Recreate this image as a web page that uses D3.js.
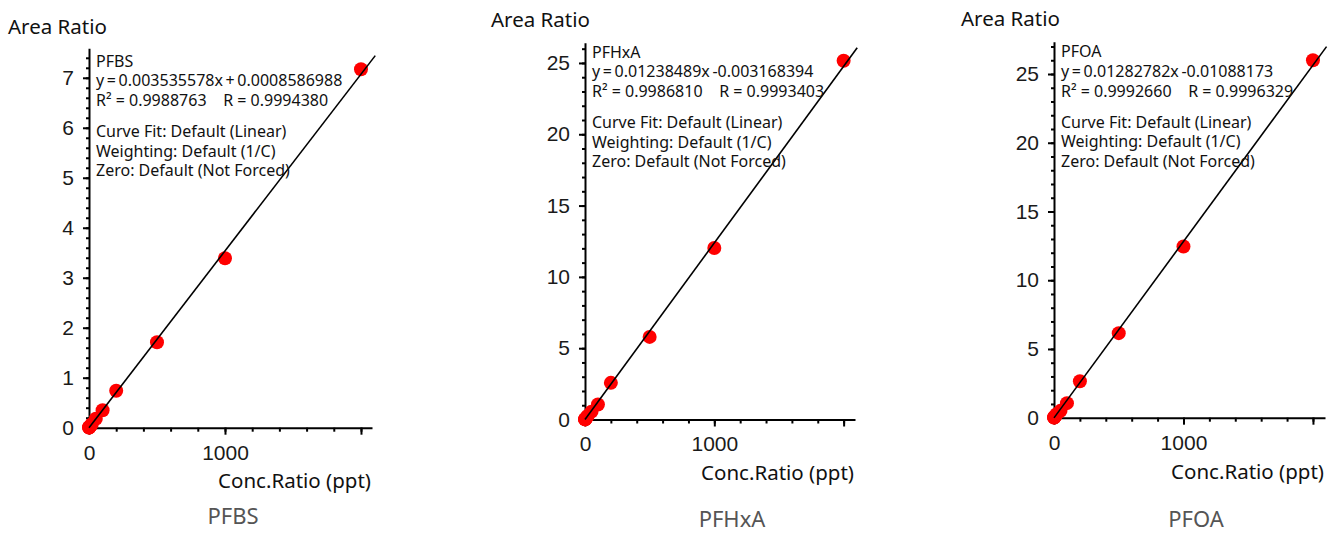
<!DOCTYPE html>
<html lang="en">
<head>
<meta charset="UTF-8">
<title>Calibration curves</title>
<script src="https://d3js.org/d3.v7.min.js"></script>
<style>
    body { margin: 0; background: #fff; }
    svg { display: block; font-family: "Noto Sans", "Open Sans", sans-serif; }
    .axis path, .axis line { stroke: #000; }
    .axis path { stroke-width: 2px; }
    .axis line { stroke-width: 2px; }
    .axis text { font-size: 21px; fill: #1a1a1a; }
    .note { font-size: 16px; fill: #111; white-space: pre; }
    .ylab, .xlab { font-size: 20.5px; fill: #111; }
    .title { font-size: 22px; fill: #555; }
</style>
</head>
<body>
<div id="chart"></div>
<script>
// calibration levels (ppt)
var conc = [0.5, 1, 2, 5, 10, 20, 50, 100, 200, 500, 1000, 2000];

// area ratios
var pfbsArea  = [0.002, 0.004, 0.008, 0.018, 0.036, 0.07, 0.18, 0.35, 0.74, 1.71, 3.39, 7.17];
var pfhxaArea = [0.006, 0.012, 0.025, 0.06, 0.12, 0.25, 0.55, 1.05, 2.57, 5.79, 12.03, 25.15];
var pfoaArea  = [0.006, 0.013, 0.026, 0.065, 0.13, 0.26, 0.5, 1.06, 2.65, 6.15, 12.45, 26.0];

var names = ["PFBS", "PFHxA", "PFOA"];
var slopes = [0.003535578, 0.01238489, 0.01282782];
var intercepts = [0.0008586988, -0.003168394, -0.01088173];
var eqLabels = [
    "y\u2009=\u20090.003535578x\u2009+\u20090.0008586988",
    "y\u2009=\u20090.01238489x\u2009-0.003168394",
    "y\u2009=\u20090.01282782x\u2009-0.01088173"
];
var rLabels = [
    "R\u00b2 = 0.9988763    R = 0.9994380",
    "R\u00b2 = 0.9986810    R = 0.9993403",
    "R\u00b2 = 0.9992660    R = 0.9996329"
];
var fitLines = ["Curve Fit: Default (Linear)", "Weighting: Default (1/C)", "Zero: Default (Not Forced)"];

var xTickLabels = [0, 1000];

var W = 1332, H = 534;
var svg = d3.select("#chart").append("svg").attr("width", W).attr("height", H);

// plot boxes in page pixels
var panels = [
    { left: 89,   right: 372,  bottom: 427.7, top: 48.3, xMax: 2081, yMax: 7.59,  yMajor: 1, yMinor: 0.2,
      yLabX: 8,   yLabY: 27, noteY: 61,  titleX: 233,  titleY: 516, xLabY: 481 },
    { left: 585,  right: 855,  bottom: 419.5, top: 42.7, xMax: 2088, yMax: 26.42, yMajor: 5, yMinor: 1,
      yLabX: 491, yLabY: 20, noteY: 52,  titleX: 732,  titleY: 519, xLabY: 473 },
    { left: 1054, right: 1325, bottom: 417.7, top: 41.7, xMax: 2093, yMax: 27.35, yMajor: 5, yMinor: 1,
      yLabX: 961, yLabY: 18.5, noteY: 51.7, titleX: 1196, titleY: 519, xLabY: 472 }
];
var areas = [pfbsArea, pfhxaArea, pfoaArea];

panels.forEach(function (p, i) {
    var g = svg.append("g");
    var x = d3.scaleLinear().domain([0, p.xMax]).range([p.left, p.right]);
    var y = d3.scaleLinear().domain([0, p.yMax]).range([p.bottom, p.top]);

    var eps = 1e-9;
    // minor ticks
    g.append("g").attr("class", "axis")
        .attr("transform", "translate(" + p.left + ",0)")
        .call(d3.axisLeft(y).tickValues(d3.range(0, p.yMax + eps, p.yMinor)).tickSize(3).tickFormat("").tickSizeOuter(0));
    g.append("g").attr("class", "axis")
        .attr("transform", "translate(0," + p.bottom + ")")
        .call(d3.axisBottom(x).tickValues(d3.range(0, p.xMax + eps, 200)).tickSize(4).tickFormat("").tickSizeOuter(0));
    // major ticks
    g.append("g").attr("class", "axis")
        .attr("transform", "translate(" + p.left + ",0)")
        .call(d3.axisLeft(y).tickValues(d3.range(0, p.yMax + eps, p.yMajor)).tickSize(6).tickPadding(9)
            .tickFormat(d3.format("d")).tickSizeOuter(0))
        .select(".domain").remove();
    g.append("g").attr("class", "axis")
        .attr("transform", "translate(0," + p.bottom + ")")
        .call(d3.axisBottom(x).tickValues([0, 1000, 2000]).tickSize(7).tickPadding(10)
            .tickFormat(function (d) { return xTickLabels.indexOf(d) >= 0 ? d : ""; }).tickSizeOuter(0))
        .select(".domain").remove();
    g.selectAll(".axis .tick line").attr("stroke-width", 1.6);

    // points
    g.append("g").selectAll("circle")
        .data(conc.map(function (c, k) { return [c, areas[i][k]]; }))
        .enter().append("circle")
        .attr("cx", function (d) { return x(d[0]); })
        .attr("cy", function (d) { return y(d[1]); })
        .attr("r", 7)
        .attr("fill", "#ff0000");

    // fitted line
    var fx = [0, 2105];
    g.append("line")
        .attr("x1", x(fx[0])).attr("y1", y(slopes[i] * fx[0] + intercepts[i]))
        .attr("x2", x(fx[1])).attr("y2", y(slopes[i] * fx[1] + intercepts[i]))
        .attr("stroke", "#000").attr("stroke-width", 1.6);

    // annotation block
    var note = g.append("text").attr("class", "note")
        .attr("x", p.left + 7).attr("y", p.noteY).attr("dy", "0.35em");
    var lines = [names[i], eqLabels[i], rLabels[i]].concat(fitLines);
    lines.forEach(function (t, k) {
        note.append("tspan").attr("x", p.left + 7)
            .attr("y", p.noteY + k * 19.6 + (k >= 3 ? 11.5 : 0))
            .attr("dy", "0.35em").text(t);
    });

    g.append("text").attr("class", "ylab")
        .attr("x", p.yLabX).attr("y", p.yLabY).attr("dy", "0.35em").text("Area Ratio");
    g.append("text").attr("class", "xlab")
        .attr("x", p.right - 1).attr("y", p.xLabY).attr("dy", "0.35em")
        .attr("text-anchor", "end").text("Conc.Ratio (ppt)");
    g.append("text").attr("class", "title")
        .attr("x", p.titleX).attr("y", p.titleY).attr("dy", "0.35em")
        .attr("text-anchor", "middle").text(names[i]);
});
</script>
</body>
</html>
